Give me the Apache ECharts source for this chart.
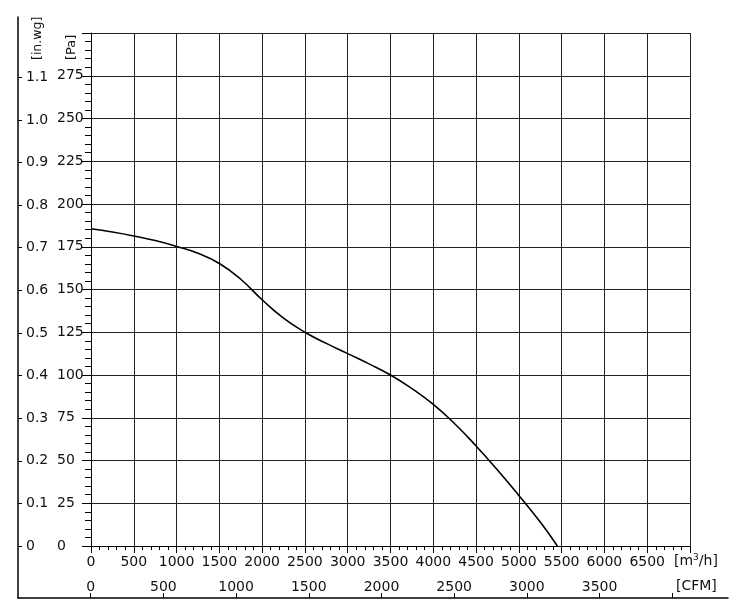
<!DOCTYPE html>
<html>
  <head>
    <meta charset="utf-8" />
    <script src="https://cdn.jsdelivr.net/npm/echarts@6.0.0/dist/echarts.min.js"></script>
    <style>
      html, body { margin: 0; padding: 0; background: #fff; }
      #main { width: 746px; height: 614px; }
    </style>
  </head>

  <body>
    <div id="main"></div>
    <script type="text/javascript">
      // fan curve: air flow [m3/h] vs static pressure [Pa]
      const flow = [0, 250, 500, 750, 1000, 1250, 1500, 1750, 2000, 2250, 2500, 2750,
                    3000, 3250, 3500, 3750, 4000, 4250, 4500, 4750, 5000, 5250, 5450];
      const pressure = [185.5, 183.6, 181.3, 178.6, 175.2, 171.2, 165.2, 156, 144, 133.3, 125, 118.5,
                        112.5, 106.5, 100, 92, 82.8, 71.5, 58.5, 44.5, 29.6, 14, 0];

      // secondary scale ticks
      const cfmTicks = [0, 500, 1000, 1500, 2000, 2500, 3000, 3500, 4000];
      const cfmLabels = [0, 500, 1000, 1500, 2000, 2500, 3000, 3500];
      const inwgTicks = [0, 0.1, 0.2, 0.3, 0.4, 0.5, 0.6, 0.7, 0.8, 0.9, 1.0, 1.1];

      const font = 'DejaVu Sans';
      const fs = 14;
      const ink = '#111';

      var myChart = echarts.init(document.getElementById('main'));

      var option = {
        animation: false,
        textStyle: { fontFamily: font },
        grid: [
          { left: 91, top: 33, width: 599, height: 513 },
          // outer frame carrying CFM and in.wg scales
          { left: 18, top: 17, right: 18, bottom: 16 }
        ],
        xAxis: [
          {
            type: 'value', gridIndex: 0, min: 0, max: 7000, interval: 500,
            axisLine: { show: true, onZero: false, lineStyle: { color: '#000', width: 1 } },
            axisTick: { show: true, length: 7, lineStyle: { color: '#000' } },
            minorTick: { show: true, splitNumber: 5, length: 4, lineStyle: { color: '#000' } },
            splitLine: { show: true, lineStyle: { color: '#222', width: 1 } },
            axisLabel: {
              margin: 9, color: ink, fontSize: fs, fontFamily: font,
              formatter: v => (v >= 7000 ? '' : String(v))
            }
          },
          {
            type: 'value', gridIndex: 1, min: -500, max: 4383.5,
            axisLine: { show: true, onZero: false, lineStyle: { color: '#000', width: 1.5 } },
            axisTick: { show: true, inside: true, length: 5, customValues: cfmTicks, lineStyle: { color: '#000' } },
            splitLine: { show: false },
            axisLabel: {
              inside: true, margin: 4, color: ink, fontSize: fs, fontFamily: font,
              customValues: cfmLabels,
              formatter: v => String(v)
            }
          }
        ],
        yAxis: [
          {
            type: 'value', gridIndex: 0, min: 0, max: 300, interval: 25,
            axisLine: { show: true, onZero: false, lineStyle: { color: '#000', width: 1 } },
            axisTick: { show: true, length: 9, lineStyle: { color: '#000' } },
            minorTick: { show: true, splitNumber: 5, length: 6, lineStyle: { color: '#000' } },
            splitLine: { show: true, lineStyle: { color: '#222', width: 1 } },
            axisLabel: {
              margin: 34, align: 'left', color: ink, fontSize: fs, fontFamily: font,
              formatter: v => (v >= 300 ? '' : String(v))
            }
          },
          {
            type: 'value', gridIndex: 1, min: -0.122, max: 1.2415,
            axisLine: { show: true, onZero: false, lineStyle: { color: '#000', width: 1.5 } },
            axisTick: { show: true, inside: true, length: 4, customValues: inwgTicks, lineStyle: { color: '#000' } },
            splitLine: { show: false },
            axisLabel: {
              inside: true, margin: 8, color: ink, fontSize: fs, fontFamily: font,
              customValues: inwgTicks,
              formatter: v => (v === 0 ? '0' : v.toFixed(1))
            }
          }
        ],
        graphic: [
          {
            type: 'text', x: 38, y: 60, rotation: Math.PI / 2,
            style: { text: '[in.wg]', fill: ink, font: '12.5px "' + font + '"', textAlign: 'left', textVerticalAlign: 'middle' }
          },
          {
            type: 'text', x: 72, y: 60, rotation: Math.PI / 2,
            style: { text: '[Pa]', fill: ink, font: '13px "' + font + '"', textAlign: 'left', textVerticalAlign: 'middle' }
          },
          {
            type: 'text', x: 674, y: 561,
            style: {
              text: '[m{s|3}/h]', fill: ink, font: fs + 'px "' + font + '"',
              textAlign: 'left', textVerticalAlign: 'middle',
              rich: { s: { fontSize: 9, fontFamily: font, padding: [0, 0, 7, 0], fill: ink } }
            }
          },
          {
            type: 'text', x: 676, y: 586,
            style: { text: '[CFM]', fill: ink, font: fs + 'px "' + font + '"', textAlign: 'left', textVerticalAlign: 'middle' }
          }
        ],
        series: [
          {
            type: 'line',
            xAxisIndex: 0, yAxisIndex: 0,
            data: flow.map((f, i) => [f, pressure[i]]),
            smooth: 0.5,
            showSymbol: false,
            lineStyle: { color: '#000', width: 1.6 }
          }
        ]
      };

      myChart.setOption(option);
    </script>
  </body>
</html>
